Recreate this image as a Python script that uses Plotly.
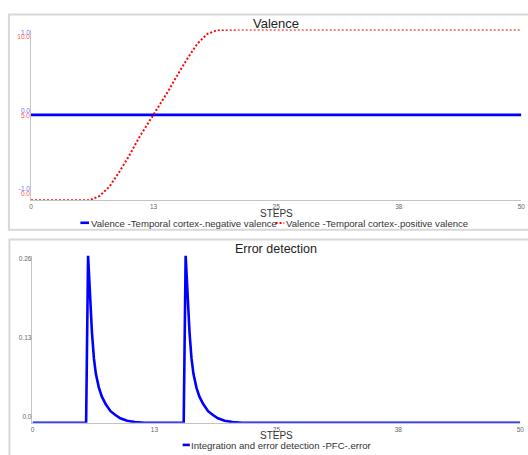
import plotly.graph_objects as go

W, H = 528, 455

# ---------------- data ----------------
steps = list(range(51))
x_tick_vals = [0, 12.5, 25, 37.5, 50]
x_tick_text = ["0", "13", "25", "38", "50"]

negative_valence = [0.0, 0.0, 0.0, 0.0, 0.0, 0.0, 0.0, 0.0, 0.0, 0.0,
                    0.0, 0.0, 0.0, 0.0, 0.0, 0.0, 0.0, 0.0, 0.0, 0.0,
                    0.0, 0.0, 0.0, 0.0, 0.0, 0.0, 0.0, 0.0, 0.0, 0.0,
                    0.0, 0.0, 0.0, 0.0, 0.0, 0.0, 0.0, 0.0, 0.0, 0.0,
                    0.0, 0.0, 0.0, 0.0, 0.0, 0.0, 0.0, 0.0, 0.0, 0.0, 0.0]
positive_valence = [0.0, 0.0, 0.0, 0.0, 0.0, 0.0, 0.0, 0.25, 0.8, 1.65,
                    2.6, 3.65, 4.55, 5.45, 6.4, 7.4, 8.35, 9.2, 9.75, 9.97,
                    10.0, 10.0, 10.0, 10.0, 10.0, 10.0, 10.0, 10.0, 10.0, 10.0,
                    10.0, 10.0, 10.0, 10.0, 10.0, 10.0, 10.0, 10.0, 10.0, 10.0,
                    10.0, 10.0, 10.0, 10.0, 10.0, 10.0, 10.0, 10.0, 10.0, 10.0, 10.0]

neg_tick_vals = [-1, 0, 1]
neg_tick_text = ["-1.0", "0.0", "1.0"]
pos_tick_vals = [0, 5, 10]
pos_tick_text = ["0.0", "5.0", "10.0"]

error_steps = [0, 5.5, 5.7, 5.9, 6.1, 6.3, 6.5, 6.8, 7.1, 7.5, 8.0, 8.5, 9.0, 9.7, 10.5, 11.5,
               15.5, 15.7, 15.9, 16.1, 16.3, 16.5, 16.8, 17.1, 17.5, 18.0, 18.5, 19.0, 19.7, 20.5, 21.5,
               50]
error_values = [0.0, 0.0, 0.26, 0.19, 0.14, 0.10, 0.076, 0.055, 0.041, 0.029, 0.018, 0.012, 0.007, 0.003, 0.001, 0.0,
                0.0, 0.26, 0.19, 0.14, 0.10, 0.076, 0.055, 0.041, 0.029, 0.018, 0.012, 0.007, 0.003, 0.001, 0.0,
                0.0]
err_tick_vals = [0, 0.13, 0.26]
err_tick_text = ["0.0", "0.13", "0.26"]

# ---------------- helpers (pixel -> paper) ----------------
def px(x):
    return x / W


def py(y):
    return 1 - y / H


AXIS_LINE = "#c4c4c4"
FONT = "Liberation Sans, Arial, sans-serif"
TICK_FONT = dict(family=FONT, size=6.5, color="#666666")
RED_DASH = "2px,2px"

fig = go.Figure()

# top panel data
fig.add_trace(go.Scatter(x=steps, y=negative_valence, mode="lines",
                         line=dict(color="#0000ff", width=2.6),
                         xaxis="x", yaxis="y", showlegend=False, hoverinfo="skip"))
fig.add_trace(go.Scatter(x=steps, y=positive_valence, mode="lines",
                         line=dict(color="#ff0000", width=2, dash=RED_DASH),
                         xaxis="x", yaxis="y2", showlegend=False, hoverinfo="skip"))
# label-only subplots
fig.add_trace(go.Scatter(x=[None], y=[None], xaxis="x3", yaxis="y3", showlegend=False, hoverinfo="skip"))
fig.add_trace(go.Scatter(x=[None], y=[None], xaxis="x4", yaxis="y4", showlegend=False, hoverinfo="skip"))
fig.add_trace(go.Scatter(x=[None], y=[None], xaxis="x5", yaxis="y6", showlegend=False, hoverinfo="skip"))
# bottom panel data
fig.add_trace(go.Scatter(x=error_steps, y=error_values, mode="lines",
                         line=dict(color="#0000ff", width=2.6),
                         xaxis="x2", yaxis="y5", showlegend=False, hoverinfo="skip"))

top_x_dom = [px(29.3), px(525.3)]
bot_x_dom = [px(30.8), px(524.3)]
X_RANGE = [0, 50.001]

hidden = dict(visible=False, showgrid=False, zeroline=False)

fig.update_layout(
    width=W, height=H,
    margin=dict(l=0, r=0, t=0, b=0),
    paper_bgcolor="white", plot_bgcolor="rgba(0,0,0,0)",
    showlegend=False,
    xaxis=dict(domain=top_x_dom, anchor="y", range=X_RANGE, showgrid=False, zeroline=False,
               showline=True, linecolor=AXIS_LINE, linewidth=1, ticks="",
               tickvals=x_tick_vals, ticktext=x_tick_text, tickfont=TICK_FONT,
               ticklabeloverflow="allow"),
    yaxis=dict(domain=[py(199.3), py(26)], anchor="x", range=[-1, 1], showgrid=False, zeroline=False,
               showline=True, linecolor=AXIS_LINE, linewidth=1, ticks="", showticklabels=False),
    yaxis2=dict(overlaying="y", range=[0, 10], **hidden),
    xaxis3=dict(domain=top_x_dom, anchor="y3", range=X_RANGE, **hidden),
    yaxis3=dict(domain=[py(187.5), py(28.8)], anchor="x3", range=[-1, 1], showgrid=False,
                zeroline=False, showline=False, ticks="",
                tickvals=neg_tick_vals, ticktext=neg_tick_text,
                tickfont=dict(family=FONT, size=6.5, color="#7070ff")),
    xaxis4=dict(domain=top_x_dom, anchor="y4", range=X_RANGE, **hidden),
    yaxis4=dict(domain=[py(192.7), py(33.3)], anchor="x4", range=[0, 10], showgrid=False,
                zeroline=False, showline=False, ticks="",
                tickvals=pos_tick_vals, ticktext=pos_tick_text,
                tickfont=dict(family=FONT, size=6.5, color="#ff5050")),
    xaxis2=dict(domain=bot_x_dom, anchor="y5", range=X_RANGE, showgrid=False, zeroline=False,
                showline=True, linecolor=AXIS_LINE, linewidth=1, ticks="",
                tickvals=x_tick_vals, ticktext=x_tick_text, tickfont=TICK_FONT,
                ticklabeloverflow="allow"),
    yaxis5=dict(domain=[py(425.3), py(255.5)], anchor="x2", range=[0, 0.26], showgrid=False,
                zeroline=False, showline=True, linecolor=AXIS_LINE, linewidth=1, ticks="",
                showticklabels=False),
    xaxis5=dict(domain=bot_x_dom, anchor="y6", range=X_RANGE, **hidden),
    yaxis6=dict(domain=[py(418.7), py(258.3)], anchor="x5", range=[0, 0.26], showgrid=False,
                zeroline=False, showline=False, ticks="",
                tickvals=err_tick_vals, ticktext=err_tick_text, tickfont=TICK_FONT),
)

# panel borders
border = dict(color="#d8d8d8", width=2)
fig.add_shape(type="rect", xref="paper", yref="paper", x0=px(7), x1=px(540), y0=py(229.3), y1=py(10.7),
              line=border, fillcolor="rgba(0,0,0,0)", layer="below")
fig.add_shape(type="rect", xref="paper", yref="paper", x0=px(7.5), x1=px(540), y0=py(470), y1=py(239.3),
              line=border, fillcolor="rgba(0,0,0,0)", layer="below")

# legend symbols
fig.add_shape(type="line", xref="paper", yref="paper", x0=px(79.3), x1=px(88), y0=py(222.2), y1=py(222.2),
              line=dict(color="#0000ff", width=2.6))
fig.add_shape(type="line", xref="paper", yref="paper", x0=px(276.7), x1=px(285.5), y0=py(222.4), y1=py(222.4),
              line=dict(color="#ff0000", width=2, dash=RED_DASH))
fig.add_shape(type="line", xref="paper", yref="paper", x0=px(182.7), x1=px(190), y0=py(447.8), y1=py(447.8),
              line=dict(color="#0000ff", width=2.6))


def note(text, x, y, size, color="#333333", xanchor="center"):
    fig.add_annotation(text=text, xref="paper", yref="paper", x=px(x), y=py(y),
                       xanchor=xanchor, yanchor="middle", showarrow=False,
                       font=dict(family=FONT, size=size, color=color))


note("Valence", 277.3, 20.3, 13, "#222222")
note("Error detection", 277.3, 249.3, 12.5, "#222222")
note("STEPS", 277.3, 212.7, 10)
note("STEPS", 277.8, 438.3, 10)
note("Valence -Temporal cortex-.negative valence", 87.5, 222.7, 9.6, xanchor="left")
note("Valence -Temporal cortex-.positive valence", 284.8, 222.7, 9.6, xanchor="left")
note("Integration and error detection -PFC-.error", 189.2, 448.3, 9.6, xanchor="left")

fig.write_html("out.html")
